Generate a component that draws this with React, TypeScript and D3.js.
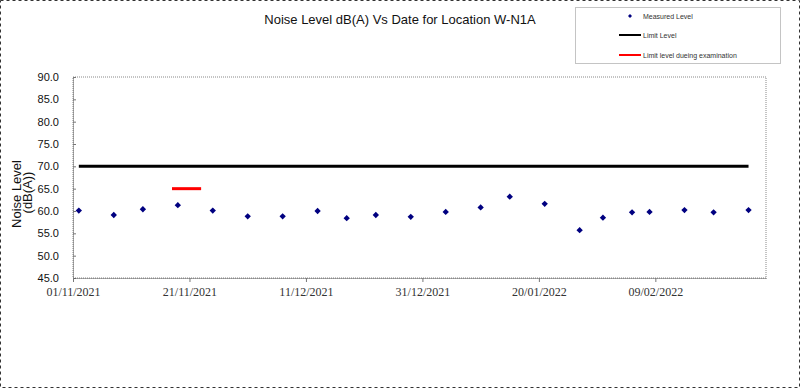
import React, { useEffect, useRef } from "react";
import * as d3 from "d3";

// measurement dates and levels dB(A)
const dates = [
  "2021-11-02", "2021-11-08", "2021-11-13", "2021-11-19", "2021-11-25",
  "2021-12-01", "2021-12-07", "2021-12-13", "2021-12-18", "2021-12-23",
  "2021-12-29", "2022-01-04", "2022-01-10", "2022-01-15", "2022-01-21",
  "2022-01-27", "2022-01-31", "2022-02-05", "2022-02-08", "2022-02-14",
  "2022-02-19", "2022-02-25",
];
const levels = [
  60.1, 59.1, 60.4, 61.3, 60.1, 58.8, 58.8, 60.0, 58.4, 59.1, 58.7,
  59.8, 60.8, 63.2, 61.6, 55.7, 58.5, 59.7, 59.8, 60.2, 59.7, 60.2,
];
const limitLevel = 70;
const examDates = ["2021-11-18", "2021-11-23"];
const examLimit = 65;
const xDomain = ["2021-11-01", "2022-02-28"];
const xTicks = ["2021-11-01", "2021-11-21", "2021-12-11", "2021-12-31", "2022-01-20", "2022-02-09"];
const yTicks = [45, 50, 55, 60, 65, 70, 75, 80, 85, 90];
const legendLabels = ["Measured Level", "Limit Level", "Limit level dueing examination"];

const W = 803, H = 390;
const sans = "'Liberation Sans', Arial, sans-serif";
const serif = "'Liberation Serif', 'Times New Roman', serif";

const App = () => {
  const ref = useRef<SVGSVGElement>(null);

  useEffect(() => {
    const svg = d3.select(ref.current);
    svg.selectAll("*").remove();

    const parse = d3.utcParse("%Y-%m-%d");
    const x = d3.scaleUtc()
      .domain(xDomain.map((d) => parse(d)!))
      .range([73, 766]);
    const y = d3.scaleLinear().domain([45, 90]).range([278, 77]);

    // outer frame
    svg.append("rect")
      .attr("x", 0.5).attr("y", 0.5)
      .attr("width", W - 4).attr("height", H - 3)
      .attr("fill", "#fff")
      .attr("stroke", "#333")
      .attr("stroke-dasharray", "3,3");

    // title
    svg.append("text")
      .attr("x", 400).attr("y", 24)
      .attr("text-anchor", "middle")
      .style("font-family", sans)
      .style("font-size", "13px")
      .attr("fill", "#111")
      .text("Noise Level dB(A) Vs Date for Location W-N1A");

    // plot area border
    svg.append("rect")
      .attr("x", 73).attr("y", 77)
      .attr("width", 766 - 73).attr("height", 278 - 77)
      .attr("fill", "none")
      .attr("stroke", "#888")
      .attr("stroke-dasharray", "1,1");

    // y axis
    const yAxis = svg.append("g").attr("transform", "translate(73,0)")
      .call(d3.axisLeft(y).tickValues(yTicks).tickFormat(d3.format(".1f")).tickSizeInner(-3).tickSizeOuter(0).tickPadding(14));
    yAxis.select(".domain").attr("stroke", "#555").attr("stroke-dasharray", "1,1");
    yAxis.selectAll(".tick line").attr("stroke", "#777");
    yAxis.selectAll("text")
      .style("font-family", sans).style("font-size", "11px").attr("fill", "#111");

    // x axis
    const xAxis = svg.append("g").attr("transform", "translate(0,278)")
      .call(d3.axisBottom(x).tickValues(xTicks.map((d) => parse(d)!))
        .tickFormat((d) => d3.utcFormat("%d/%m/%Y")(d as Date)).tickSizeInner(4).tickSizeOuter(0).tickPadding(5));
    xAxis.select(".domain").attr("stroke", "#555").attr("stroke-dasharray", "1,1");
    xAxis.selectAll(".tick line").attr("stroke", "#777");
    xAxis.selectAll("text")
      .style("font-family", serif).style("font-size", "12px").attr("fill", "#333");

    // y label
    const yl = svg.append("text")
      .attr("transform", "translate(21,194) rotate(-90)")
      .attr("text-anchor", "middle")
      .style("font-family", sans).style("font-size", "13px").attr("fill", "#111");
    yl.append("tspan").attr("x", 0).attr("dy", 0).text("Noise Level");
    yl.append("tspan").attr("x", 1.5).attr("dy", 11).text("(dB(A))");

    const pts = dates.map((d, i) => ({ date: parse(d)!, value: levels[i] }));
    const line = d3.line<{ date: Date; value: number }>().x((d) => x(d.date)).y((d) => y(d.value));

    // limit level
    svg.append("path")
      .datum(pts.map((p) => ({ date: p.date, value: limitLevel })))
      .attr("d", line)
      .attr("fill", "none").attr("stroke", "#000").attr("stroke-width", 3);

    // exam limit
    svg.append("path")
      .datum(examDates.map((d) => ({ date: parse(d)!, value: examLimit })))
      .attr("d", line)
      .attr("fill", "none").attr("stroke", "#f00").attr("stroke-width", 3);

    // measured points
    const diamond = d3.symbol().type(d3.symbolSquare).size(20);
    svg.append("g").selectAll("path")
      .data(pts)
      .enter()
      .append("path")
      .attr("d", diamond)
      .attr("transform", (d) => `translate(${x(d.date)},${y(d.value)}) rotate(45)`)
      .attr("fill", "#000080");

    // legend
    const lg = svg.append("g");
    lg.append("rect")
      .attr("x", 575.5).attr("y", 7.5).attr("width", 205).attr("height", 56)
      .attr("fill", "#fff").attr("stroke", "#888").attr("stroke-dasharray", "1,1");
    lg.append("path")
      .attr("d", d3.symbol().type(d3.symbolSquare).size(8)())
      .attr("transform", "translate(630,16) rotate(45)")
      .attr("fill", "#000080");
    lg.append("line").attr("x1", 619).attr("x2", 641).attr("y1", 35).attr("y2", 35)
      .attr("stroke", "#000").attr("stroke-width", 2);
    lg.append("line").attr("x1", 619).attr("x2", 641).attr("y1", 55).attr("y2", 55)
      .attr("stroke", "#f00").attr("stroke-width", 2);
    lg.selectAll("text.lab")
      .data(legendLabels)
      .enter()
      .append("text")
      .attr("class", "lab")
      .attr("x", 643)
      .attr("y", (d, i) => 18.5 + i * 19.5)
      .style("font-family", sans).style("font-size", "7px").attr("fill", "#333")
      .text((d) => d);
  }, []);

  return (
    <svg ref={ref} width={W} height={H}
      style={{ position: "absolute", left: 0, top: 0, background: "#fff" }} />
  );
};

export default App;
